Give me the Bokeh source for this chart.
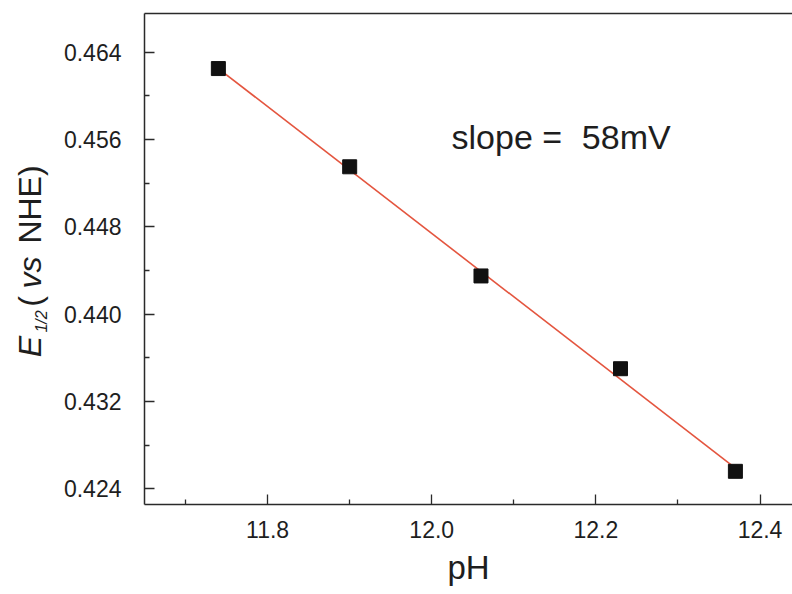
import math
from bokeh.plotting import figure
from bokeh.layouts import row
from bokeh.models import (FixedTicker, NumeralTickFormatter, Label, LinearAxis,
                          Range1d, ColumnDataSource)
from bokeh.embed import file_html
from bokeh.resources import INLINE

# ---------------- data ----------------
ph = [11.74, 11.90, 12.06, 12.23, 12.37]
e_half = [0.4625, 0.4535, 0.4435, 0.4350, 0.4256]
fit_ph = [11.74, 12.37]
fit_e = [0.4625, 0.4259]
x_major = [11.8, 12.0, 12.2, 12.4]
x_minor = [11.7, 11.9, 12.1, 12.3]
y_major = [0.424, 0.432, 0.440, 0.448, 0.456, 0.464]
y_minor = [0.428, 0.436, 0.444, 0.452, 0.460]
slope_parts = ["slope =", "58mV"]
x_title = "pH"

# ---------------- layout ----------------
TOTAL_W, TOTAL_H = 792, 594
LW = 60                      # width of the y-title strip
W = TOTAL_W - LW             # main figure width
FL = 141 - LW                # frame left inside main figure
FT, FB = 13, 504             # frame top / bottom (pixels)
FW = W - FL
FH = FB - FT
X0, X1 = 11.65, 11.65 + FW / 824.5
Y0, Y1 = 0.42256, 0.42256 + FH / 10915.0
FONT = "Liberation Sans"
TXT = "#1e1e1e"
AX = "#2a2a2a"


def data_x(px):
    return X0 + (px - 141) * (X1 - X0) / FW


def data_y(py):
    return Y1 - (py - FT) * (Y1 - Y0) / FH


p = figure(width=W, height=TOTAL_H, output_backend="svg", toolbar_location=None,
           x_range=Range1d(X0, X1), y_range=Range1d(Y0, Y1),
           min_border_left=FL, min_border_right=0, min_border_top=FT,
           min_border_bottom=TOTAL_H - FB)
p.outline_line_color = None
p.grid.visible = False
p.background_fill_color = "white"
p.border_fill_color = "white"

for ax, major, minor, fmt in ((p.xaxis[0], x_major, x_minor, "0.0"),
                              (p.yaxis[0], y_major, y_minor, "0.000")):
    ax.ticker = FixedTicker(ticks=major, minor_ticks=minor)
    ax.formatter = NumeralTickFormatter(format=fmt)
    ax.axis_line_color = AX
    ax.axis_line_width = 1.5
    ax.major_tick_line_color = AX
    ax.minor_tick_line_color = AX
    ax.major_tick_line_width = 1.3
    ax.minor_tick_line_width = 1.3
    ax.major_tick_in = 10
    ax.major_tick_out = 0
    ax.minor_tick_in = 5
    ax.minor_tick_out = 0
    ax.major_label_text_font = FONT
    ax.major_label_text_font_size = "23px"
    ax.major_label_text_color = TXT

p.yaxis[0].major_label_standoff = 23
p.yaxis[0].axis_label = None
p.xaxis[0].major_label_standoff = 16
p.xaxis[0].axis_label = x_title
p.xaxis[0].axis_label_text_font = FONT
p.xaxis[0].axis_label_text_font_size = "33px"
p.xaxis[0].axis_label_text_font_style = "normal"
p.xaxis[0].axis_label_text_color = TXT
p.xaxis[0].axis_label_standoff = 8

top = LinearAxis(ticker=FixedTicker(ticks=[]), axis_line_color=AX,
                 axis_line_width=1.5, major_tick_in=0, major_tick_out=0,
                 minor_tick_in=0, minor_tick_out=0, major_label_standoff=0,
                 major_label_text_font_size="0px")
p.add_layout(top, "above")

src = ColumnDataSource(dict(x=ph, y=e_half))
fit = ColumnDataSource(dict(x=fit_ph, y=fit_e))
p.line("x", "y", source=fit, line_color="#e4553f", line_width=1.6)
p.scatter("x", "y", source=src, marker="square", size=14,
          fill_color="#111111", line_color="#111111")

# slope annotation (centres of the two parts, in pixels)
for txt, px in zip(slope_parts, (505, 625)):
    p.add_layout(Label(x=data_x(px), y=data_y(136), text=txt,
                       text_font=FONT, text_font_size="34px", text_color=TXT,
                       text_align="center", text_baseline="middle"))

# ---------------- y title strip: E_{1/2}( vs NHE) ----------------
# the row aligns this strip's frame with the main frame (rows FT..FB),
# so its y range is given directly in page pixels of that span
t = figure(width=LW, height=TOTAL_H, output_backend="svg", toolbar_location=None,
           x_range=Range1d(0, LW), y_range=Range1d(FB, FT),
           x_axis_location=None, y_axis_location=None, min_border=0)
t.outline_line_color = None
t.grid.visible = False
t.border_fill_color = "white"

# (text, centre y, centre x, size, style)
ypieces = [
    ("E", 346, 29, "32px", "italic"),
    ("1/2", 321, 41, "16px", "italic"),
    ("(", 301, 29, "32px", "normal"),
    ("vs", 272, 29, "32px", "italic"),
    ("NHE)", 204, 29, "32px", "normal"),
]
for txt, py, px, fs, style in ypieces:
    t.add_layout(Label(x=px, y=py, text=txt, angle=math.pi / 2,
                       text_font=FONT, text_font_size=fs, text_font_style=style,
                       text_color=TXT, text_align="center",
                       text_baseline="middle"))

layout = row(t, p, spacing=0)
open("out.html", "w").write(file_html(layout, INLINE))
